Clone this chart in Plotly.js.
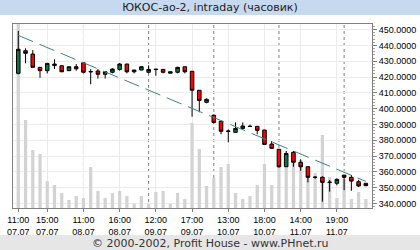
<!DOCTYPE html>
<html><head><meta charset="utf-8">
<script src="https://cdn.plot.ly/plotly-3.0.1.min.js"></script>
<style>html,body{margin:0;padding:0;background:#fff}#chart{width:420px;height:250px}</style>
</head><body><div id="chart"></div>
<script>
const dates = [
  '07.07','07.07','07.07','07.07','07.07','07.07','07.07','07.07','07.07',
  '08.07','08.07','08.07','08.07','08.07','08.07','08.07','08.07','08.07',
  '09.07','09.07','09.07','09.07','09.07','09.07','09.07','09.07','09.07',
  '10.07','10.07','10.07','10.07','10.07','10.07','10.07','10.07','10.07',
  '11.07','11.07','11.07','11.07','11.07','11.07','11.07','11.07','11.07',
  '12.07','12.07','12.07','12.07'];
const hours = [
  11,12,13,14,15,16,17,18,19,
  11,12,13,14,15,16,17,18,19,
  11,12,13,14,15,16,17,18,19,
  11,12,13,14,15,16,17,18,19,
  11,12,13,14,15,16,17,18,19,
  11,12,13,14];
const openP = [422.3,436.6,434.5,426.1,424.0,427.2,427.1,424.0,426.5,
  429.0,423.5,423.8,421.7,423.0,424.8,428.2,423.3,424.4,
  423.0,424.7,424.8,422.4,423.0,426.5,423.6,411.6,404.0,
  395.8,392.0,385.6,385.0,387.5,388.9,388.8,386.5,377.6,
  374.3,363.3,372.4,366.1,363.3,356.5,356.6,353.3,352.8,
  358.0,356.6,353.8,352.8];
const highP = [449.1,438.1,437.0,426.3,428.8,431.2,427.3,426.6,428.2,
  429.1,425.0,425.0,423.4,425.6,428.8,428.3,424.5,426.6,
  427.3,424.9,424.9,423.4,426.5,426.6,423.7,411.8,406.5,
  396.4,392.1,386.9,391.3,391.3,389.9,388.9,386.6,379.5,
  374.4,373.2,373.2,368.0,363.4,357.2,357.2,354.9,355.9,
  358.1,358.0,355.0,352.9];
const lowP = [421.7,428.6,426.1,419.5,422.3,425.0,423.1,423.9,424.0,
  422.3,415.4,419.0,419.0,422.3,424.0,422.3,422.3,424.3,
  422.3,420.8,422.3,422.3,422.3,422.3,394.9,397.7,403.4,
  390.7,383.8,378.7,384.9,386.9,388.7,383.8,377.3,374.8,
  362.6,363.2,363.3,360.7,353.4,355.7,341.2,347.5,351.5,
  348.5,348.1,350.5,351.1];
const closeP = [437.5,435.0,426.1,424.0,428.6,428.2,423.3,426.5,425.2,
  423.0,423.3,421.7,423.3,425.0,428.2,423.3,424.4,426.5,
  424.8,424.9,423.0,423.3,426.1,423.3,411.6,405.2,405.9,
  391.3,385.7,385.8,387.5,389.0,388.7,386.3,377.4,374.9,
  363.3,371.7,366.1,363.3,356.6,356.7,353.4,353.5,355.3,
  356.6,354.2,351.1,351.3];
const volume = [184,88,58,54,27,23,15,8,12,
  10,41,17,10,15,17,12,4,12,
  4,16,17,4,15,9,85,59,22,
  30,41,44,15,9,12,23,44,23,
  41,55,56,48,39,35,73,31,10,
  29,9,16,9];
const trendX = [0, 48];
const trendY = [446.3, 354.0];
const tickIdx = [0, 4, 9, 14, 19, 24, 29, 34, 39, 44];
const titleText = 'ЮКОС-ао-2, intraday (часовик)';
const footerText = '© 2000-2002, Profit House - www.PHnet.ru';

const idx = hours.map((h, i) => i);
const tickText = tickIdx.map(i => hours[i] + ':00<br>' + dates[i]);
const dayStarts = idx.filter(i => i > 0 && hours[i] === 11);

const W = 420, H = 250, L = 13, R = 48, T = 24, B = 42;
const pw = W - L - R, ph = H - T - B;
const px = x => (x - L) / pw;
const py = y => (H - B - y) / ph;

const traces = [
  {type:'bar', x: idx, y: volume, yaxis:'y', xaxis:'x', width:0.45,
   marker:{color:'#d3d3d3', line:{width:0}}, hoverinfo:'skip', showlegend:false},
  {type:'candlestick', x: idx, open: openP, high: highP, low: lowP, close: closeP,
   xaxis:'x', yaxis:'y2', whiskerwidth:0, showlegend:false,
   increasing:{fillcolor:'#007a3d', line:{color:'#000', width:1}},
   decreasing:{fillcolor:'#ff0000', line:{color:'#000', width:1}}},
  {type:'scatter', mode:'lines', x: trendX, y: trendY, xaxis:'x', yaxis:'y2',
   line:{color:'#3a8585', width:1, dash:'16px,7px'}, showlegend:false, hoverinfo:'skip'}
];

const shapes = [
  {type:'rect', xref:'paper', yref:'paper', x0:px(0), x1:px(W), y0:py(15), y1:py(0),
   fillcolor:'#c6d9ee', line:{width:0}, layer:'below'},
  {type:'rect', xref:'paper', yref:'paper', x0:px(0), x1:px(W), y0:py(H), y1:py(235),
   fillcolor:'#e6e6e6', line:{width:0}, layer:'below'}
].concat(dayStarts.map(i => ({type:'line', xref:'x', yref:'paper', x0:i, x1:i, y0:0, y1:1,
   line:{color:'#808080', width:1, dash:'3px,3px'}, layer:'below'})));

const layout = {
  width: W, height: H,
  margin:{l:L, r:R, t:T, b:B, pad:0},
  paper_bgcolor:'#ffffff', plot_bgcolor:'#ffffff',
  showlegend:false,
  title:{text:titleText, font:{family:'DejaVu Sans', size:11, color:'#222'},
    x:0.5, xref:'container', y:1 - 7.5/H, yref:'container', yanchor:'middle'},
  xaxis:{type:'linear', range:[-0.73, 48.85], rangeslider:{visible:false},
    tickvals: tickIdx, ticktext: tickText, ticks:'outside', ticklen:3, tickcolor:'#808080',
    showline:true, linecolor:'#808080', linewidth:1, mirror:true,
    showgrid:true, gridcolor:'#ebebeb', zeroline:false,
    tickfont:{family:'Liberation Sans', size:9, color:'#000'}},
  yaxis:{visible:false, range:[0, 184], showgrid:false, zeroline:false},
  yaxis2:{overlaying:'y', side:'right', range:[337.2, 453.5], dtick:10, tick0:0,
    tickformat:'.4f', ticks:'outside', ticklen:4, tickcolor:'#808080',
    showline:true, linecolor:'#808080', linewidth:1, mirror:true,
    showgrid:true, gridcolor:'#ebebeb', zeroline:false,
    minor:{ticks:'outside', ticklen:2, dtick:2, tickcolor:'#a0a0a0', showgrid:false},
    tickfont:{family:'Liberation Sans', size:9, color:'#000'}},
  shapes: shapes,
  annotations:[{text:footerText, xref:'paper', yref:'paper', x:px(210), y:py(243),
    xanchor:'center', yanchor:'middle', showarrow:false,
    font:{family:'DejaVu Sans', size:11, color:'#333'}}]
};

Plotly.newPlot('chart', traces, layout, {staticPlot:true, displayModeBar:false});
</script>
</body></html>
